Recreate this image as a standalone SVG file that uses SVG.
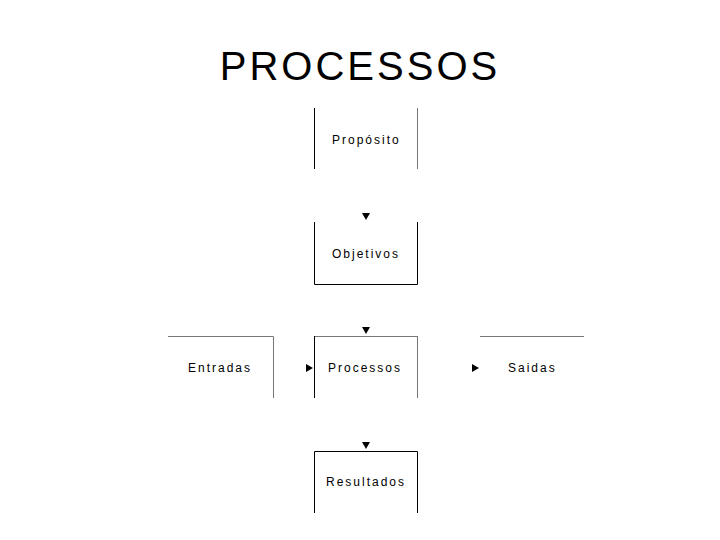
<svg xmlns="http://www.w3.org/2000/svg" width="720" height="540" viewBox="0 0 720 540">
<style>
.t{font-family:"Liberation Sans",Arial,sans-serif;font-size:12px;letter-spacing:2px;fill:#000}
.g{stroke:#777;stroke-width:1;fill:none}
.k{stroke:#000;stroke-width:1;fill:none}
.a{fill:#000}
</style>
<rect width="720" height="540" fill="#fff"/>
<text x="360" y="80" text-anchor="middle" font-family="'Liberation Sans',Arial,sans-serif" font-size="40" letter-spacing="3">PROCESSOS</text>
<g id="proposito">
<line class="k" x1="314.5" y1="108" x2="314.5" y2="169"/>
<line class="g" x1="417.5" y1="108" x2="417.5" y2="169"/>
<text class="t" x="332" y="144">Propósito</text>
</g>
<g id="objetivos">
<path class="k" d="M314.5 222V284.5H417.5V222"/>
<text class="t" x="332" y="258">Objetivos</text>
</g>
<g id="entradas">
<path class="g" d="M168 336.5H273.5V398"/>
<text class="t" x="188" y="372">Entradas</text>
</g>
<g id="processos">
<line class="g" x1="314" y1="336.5" x2="417.5" y2="336.5"/>
<line class="k" x1="314.5" y1="336" x2="314.5" y2="398"/>
<line class="g" x1="417.5" y1="336" x2="417.5" y2="398"/>
<text class="t" x="328" y="372">Processos</text>
</g>
<g id="saidas">
<line class="g" x1="480" y1="336.5" x2="584" y2="336.5"/>
<text class="t" x="508" y="372">Saidas</text>
</g>
<g id="resultados">
<path class="k" d="M314.5 513V451.5H417.5V513"/>
<text class="t" x="326" y="486">Resultados</text>
</g>
<g id="connectors">
<polygon class="a" points="362,213 370,213 366,220"/>
<polygon class="a" points="362,327 370,327 366,334"/>
<polygon class="a" points="362,442 370,442 366,449"/>
<polygon class="a" points="306,364 306,372 313,368"/>
<polygon class="a" points="472,364 472,372 479,368"/>
</g>
</svg>
